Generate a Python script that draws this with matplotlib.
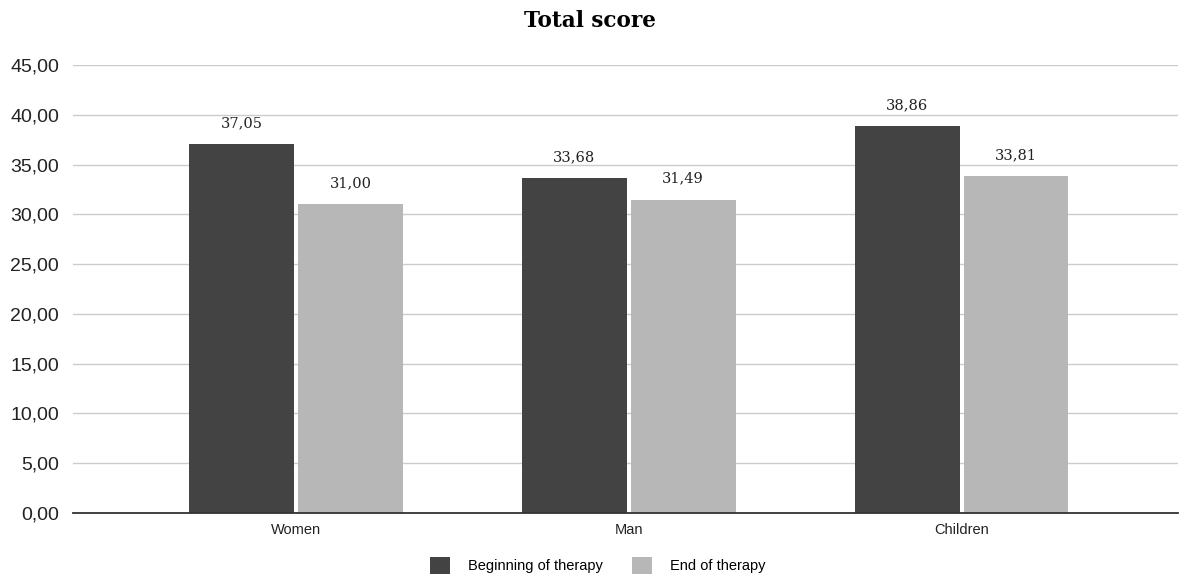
import matplotlib.pyplot as plt
import numpy as np
from matplotlib.ticker import FuncFormatter

categories = ["Women", "Man", "Children"]
beginning = [37.05, 33.68, 38.86]
end = [31.00, 31.49, 33.81]
series_names = ["Beginning of therapy", "End of therapy"]

dark = "#434343"
light = "#b7b7b7"

fig = plt.figure(figsize=(11.79, 5.81), dpi=100)
ax = fig.add_axes([0.062, 0.117, 0.937, 0.771])

x = np.arange(len(categories))
width = 0.315
gap = 0.006

b1 = ax.bar(x - width / 2 - gap, beginning, width, color=dark, label=series_names[0], zorder=3)
b2 = ax.bar(x + width / 2 + gap, end, width, color=light, label=series_names[1], zorder=3)

def comma(v):
    return f"{v:.2f}".replace(".", ",")

for rects, vals in [(b1, beginning), (b2, end)]:
    ax.bar_label(rects, labels=[comma(v) for v in vals], padding=10,
                 fontsize=10.5, family="DejaVu Serif", color="#222222")

ax.set_ylim(0, 45)
ax.set_xlim(-0.67, 2.65)
ax.set_yticks(np.arange(0, 46, 5))
ax.yaxis.set_major_formatter(FuncFormatter(lambda v, p: comma(v)))
ax.grid(axis="y", color="#cccccc", linewidth=1, zorder=0)
for s in ["top", "right", "left"]:
    ax.spines[s].set_visible(False)
ax.spines["bottom"].set_color("#333333")
ax.spines["bottom"].set_linewidth(1.3)
ax.spines["bottom"].set_zorder(4)
ax.tick_params(axis="y", length=0, labelsize=14, labelcolor="#222222", pad=10)
ax.tick_params(axis="x", length=0, labelsize=10.5, labelcolor="#222222", pad=7)
ax.set_xticks(x, categories)
for lbl in ax.get_xticklabels() + ax.get_yticklabels():
    lbl.set_family("Liberation Sans")

fig.suptitle("Total score", y=0.982, fontsize=15.5, fontweight="bold", family="DejaVu Serif")

fig.legend(loc="lower center", bbox_to_anchor=(0.507, -0.01), ncols=2, frameon=False,
           prop={"family": "Liberation Sans", "size": 10.5}, handlelength=1.4,
           handleheight=1.4, columnspacing=2.0, handletextpad=1.2)

fig.savefig("out.png", dpi=100)
